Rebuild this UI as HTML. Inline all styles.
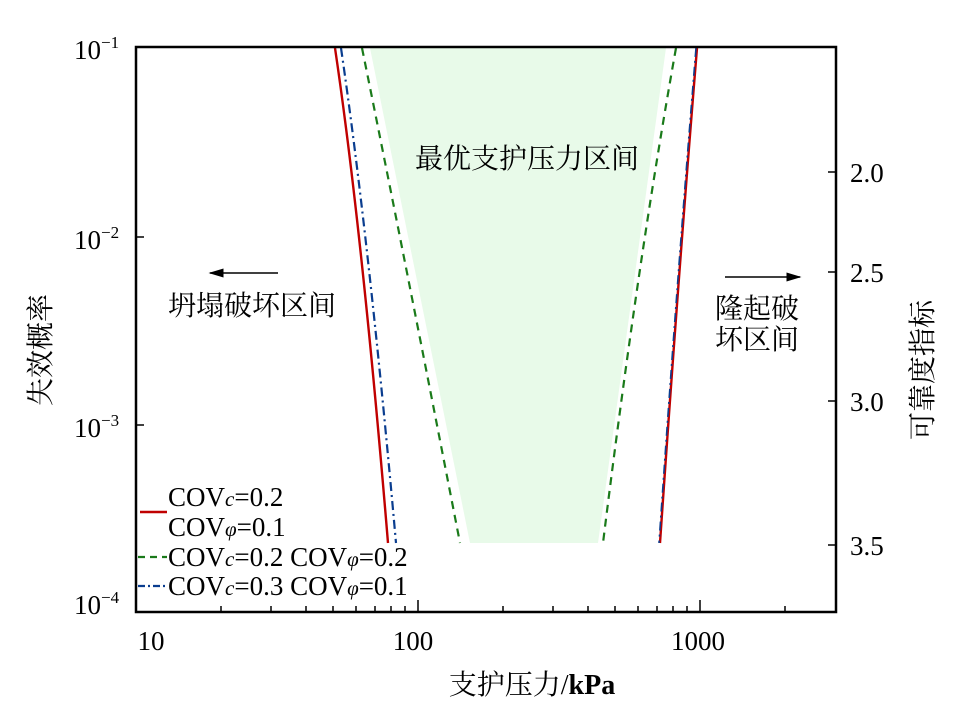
<!DOCTYPE html>
<html><head><meta charset="utf-8"><style>
body{margin:0;background:#fff;}
svg{display:block;font-family:"Liberation Serif","Noto Serif CJK SC",serif;}
.cj{font-family:"Liberation Serif","Noto Serif CJK SC",serif;}
</style></head><body>
<svg width="974" height="721" viewBox="0 0 974 721" xmlns="http://www.w3.org/2000/svg">
<defs><marker id="ah" markerWidth="10" markerHeight="8" refX="9" refY="4" orient="auto"><path d="M0,1 L10,4 L0,7 Z" fill="#000"/></marker></defs>
<path d="M370,48 L666,48 L598,543 L470,543 Z" fill="#e8fae9"/>
<path d="M335,48 Q362,230 388,543" fill="none" stroke="#c00000" stroke-width="2.4"/>
<path d="M341,48 Q369,240 396,543" fill="none" stroke="#0a3d8f" stroke-width="2.2" stroke-dasharray="9,4,2,4"/>
<path d="M362,48 Q405,260 460,543" fill="none" stroke="#1a7a1a" stroke-width="2.2" stroke-dasharray="8,6"/>
<path d="M676,48 Q638,260 603,543" fill="none" stroke="#1a7a1a" stroke-width="2.2" stroke-dasharray="8,6"/>
<path d="M697,48 Q678,280 660,543" fill="none" stroke="#c00000" stroke-width="2.4"/>
<path d="M696,48 Q677,280 659,543" fill="none" stroke="#0a3d8f" stroke-width="1.6" stroke-dasharray="9,4,2,4"/>
<rect x="136" y="47" width="700" height="565" fill="none" stroke="#000" stroke-width="2.5"/>
<g stroke="#000" stroke-width="1.5">
<line x1="136" y1="237" x2="144" y2="237"/>
<line x1="136" y1="425" x2="144" y2="425"/>
<line x1="828" y1="172" x2="836" y2="172"/>
<line x1="828" y1="272" x2="836" y2="272"/>
<line x1="828" y1="401" x2="836" y2="401"/>
<line x1="828" y1="545" x2="836" y2="545"/>
<line x1="418" y1="612" x2="418" y2="600"/>
<line x1="700" y1="612" x2="700" y2="600"/>
<line x1="221" y1="612" x2="221" y2="606"/>
<line x1="271" y1="612" x2="271" y2="606"/>
<line x1="306" y1="612" x2="306" y2="606"/>
<line x1="333" y1="612" x2="333" y2="606"/>
<line x1="356" y1="612" x2="356" y2="606"/>
<line x1="375" y1="612" x2="375" y2="606"/>
<line x1="391" y1="612" x2="391" y2="606"/>
<line x1="405" y1="612" x2="405" y2="606"/>
<line x1="503" y1="612" x2="503" y2="606"/>
<line x1="553" y1="612" x2="553" y2="606"/>
<line x1="588" y1="612" x2="588" y2="606"/>
<line x1="615" y1="612" x2="615" y2="606"/>
<line x1="638" y1="612" x2="638" y2="606"/>
<line x1="657" y1="612" x2="657" y2="606"/>
<line x1="673" y1="612" x2="673" y2="606"/>
<line x1="687" y1="612" x2="687" y2="606"/>
<line x1="785" y1="612" x2="785" y2="606"/>
</g>
<g font-size="27" fill="#000">
<text x="74" y="59">10<tspan font-size="17" dy="-11">−1</tspan></text>
<text x="74" y="249">10<tspan font-size="17" dy="-11">−2</tspan></text>
<text x="74" y="437">10<tspan font-size="17" dy="-11">−3</tspan></text>
<text x="74" y="614">10<tspan font-size="17" dy="-11">−4</tspan></text>
<text x="850" y="182">2.0</text>
<text x="850" y="282">2.5</text>
<text x="850" y="411">3.0</text>
<text x="850" y="555">3.5</text>
<text x="151" y="650" text-anchor="middle">10</text>
<text x="413" y="650" text-anchor="middle">100</text>
<text x="698" y="650" text-anchor="middle">1000</text>
</g>
<text x="532" y="694" font-size="28" text-anchor="middle" class="cj">支护压力/<tspan font-weight="bold">kPa</tspan></text>
<text class="cj" font-size="28" transform="translate(50,350) rotate(-90)" text-anchor="middle">失效概率</text>
<text class="cj" font-size="28" transform="translate(932,370) rotate(-90)" text-anchor="middle">可靠度指标</text>
<text class="cj" x="527" y="168" font-size="28" text-anchor="middle">最优支护压力区间</text>
<text class="cj" x="252" y="315" font-size="28" text-anchor="middle">坍塌破坏区间</text>
<text class="cj" x="757" y="318" font-size="28" text-anchor="middle">隆起破</text>
<text class="cj" x="757" y="349" font-size="28" text-anchor="middle">坏区间</text>
<line x1="278" y1="273" x2="210" y2="273" stroke="#000" stroke-width="1.5" marker-end="url(#ah)"/>
<line x1="725" y1="277" x2="800" y2="277" stroke="#000" stroke-width="1.5" marker-end="url(#ah)"/>
<line x1="140" y1="512" x2="167" y2="512" stroke="#c00000" stroke-width="2.5"/>
<line x1="138" y1="557" x2="167" y2="557" stroke="#1a7a1a" stroke-width="2.2" stroke-dasharray="7,5"/>
<line x1="138" y1="586" x2="167" y2="586" stroke="#0a3d8f" stroke-width="2.2" stroke-dasharray="7,3,2,3"/>
<g font-size="27" fill="#000">
<text x="168" y="506">COV<tspan font-style="italic" font-size="21">c</tspan>=0.2</text>
<text x="168" y="536">COV<tspan font-style="italic" font-size="21">φ</tspan>=0.1</text>
<text x="168" y="566">COV<tspan font-style="italic" font-size="21">c</tspan>=0.2 COV<tspan font-style="italic" font-size="21">φ</tspan>=0.2</text>
<text x="168" y="595">COV<tspan font-style="italic" font-size="21">c</tspan>=0.3 COV<tspan font-style="italic" font-size="21">φ</tspan>=0.1</text>
</g>
</svg>
</body></html>
